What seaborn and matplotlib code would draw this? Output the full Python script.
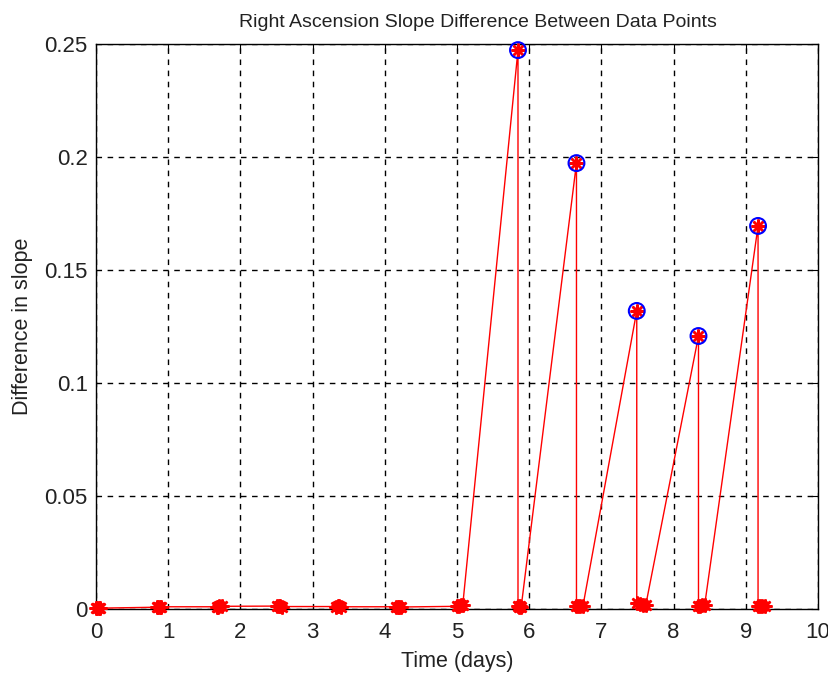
import matplotlib
matplotlib.use("Agg")
import matplotlib.pyplot as plt
import seaborn as sns
import pandas as pd

# slope difference samples (days, difference)
time_days = [0.00, 0.02, 0.04, 0.06,
             0.84, 0.86, 0.88, 0.90,
             1.67, 1.69, 1.71, 1.74,
             2.51, 2.53, 2.55, 2.58,
             3.33, 3.35, 3.37, 3.40,
             4.16, 4.18, 4.20, 4.23,
             5.00, 5.03, 5.06, 5.08,
             5.845, 5.845, 5.86, 5.875, 5.89,
             6.655, 6.655, 6.68, 6.71, 6.745,
             7.49, 7.49, 7.53, 7.57, 7.615,
             8.345, 8.345, 8.37, 8.40, 8.43,
             9.17, 9.17, 9.20, 9.23, 9.27]
slope_diff = [0.0003, 0.0004, 0.0004, 0.0004,
              0.0008, 0.0009, 0.0010, 0.0010,
              0.0010, 0.0011, 0.0012, 0.0012,
              0.0013, 0.0012, 0.0012, 0.0011,
              0.0011, 0.0012, 0.0013, 0.0010,
              0.0010, 0.0011, 0.0010, 0.0009,
              0.0012, 0.0014, 0.0016, 0.0018,
              0.2473, 0.0012, 0.0010, 0.0012, 0.0011,
              0.1973, 0.0013, 0.0012, 0.0015, 0.0014,
              0.1319, 0.0025, 0.0022, 0.0020, 0.0018,
              0.1208, 0.0015, 0.0014, 0.0017, 0.0016,
              0.1695, 0.0012, 0.0014, 0.0015, 0.0013]

# peaks marked with circles
peak_days = [5.845, 6.655, 7.49, 8.345, 9.17]
peak_vals = [0.2473, 0.1973, 0.1319, 0.1208, 0.1695]

df = pd.DataFrame({"t": time_days, "d": slope_diff})
peaks = pd.DataFrame({"t": peak_days, "d": peak_vals})

sns.set_style("white")
plt.rcParams['font.family'] = ['Liberation Sans', 'DejaVu Sans']

fig = plt.figure(figsize=(8.29, 6.74), dpi=100)
ax = fig.add_axes([0.1158, 0.0964, 0.8709, 0.8383])

sns.lineplot(data=df, x="t", y="d", sort=False, estimator=None, color="red",
             linewidth=1.0, marker=(8, 2, 0), markersize=10, markeredgewidth=1.8,
             markeredgecolor="red", ax=ax, clip_on=False, zorder=3)
sns.scatterplot(data=peaks, x="t", y="d", s=130, facecolors="none",
                edgecolor="blue", linewidth=1.5, ax=ax, clip_on=False, zorder=4)

ax.set_xlim(0, 10)
ax.set_ylim(0, 0.25)
ax.set_xticks(range(0, 11))
ax.set_yticks([0, 0.05, 0.1, 0.15, 0.2, 0.25])
ax.set_yticklabels(["0", "0.05", "0.1", "0.15", "0.2", "0.25"])
ax.grid(True, color="black", linestyle=(0, (4, 4)), linewidth=1.0)
ax.tick_params(direction="in", length=5, labelsize=16, top=True, right=True,
               color="black", labelcolor="#222222")
ax.tick_params(axis="x", pad=9)
ax.tick_params(axis="y", pad=6)
for s in ax.spines.values():
    s.set_color("black")
    s.set_linewidth(1.0)

ax.set_title("Right Ascension Slope Difference Between Data Points",
             fontsize=14, pad=12, x=0.529, color="#222222")
ax.set_xlabel("Time (days)", fontsize=15.5, labelpad=6, color="#222222")
ax.set_ylabel("Difference in slope", fontsize=15.5, labelpad=8, color="#222222")

fig.savefig("out.png", dpi=100)
